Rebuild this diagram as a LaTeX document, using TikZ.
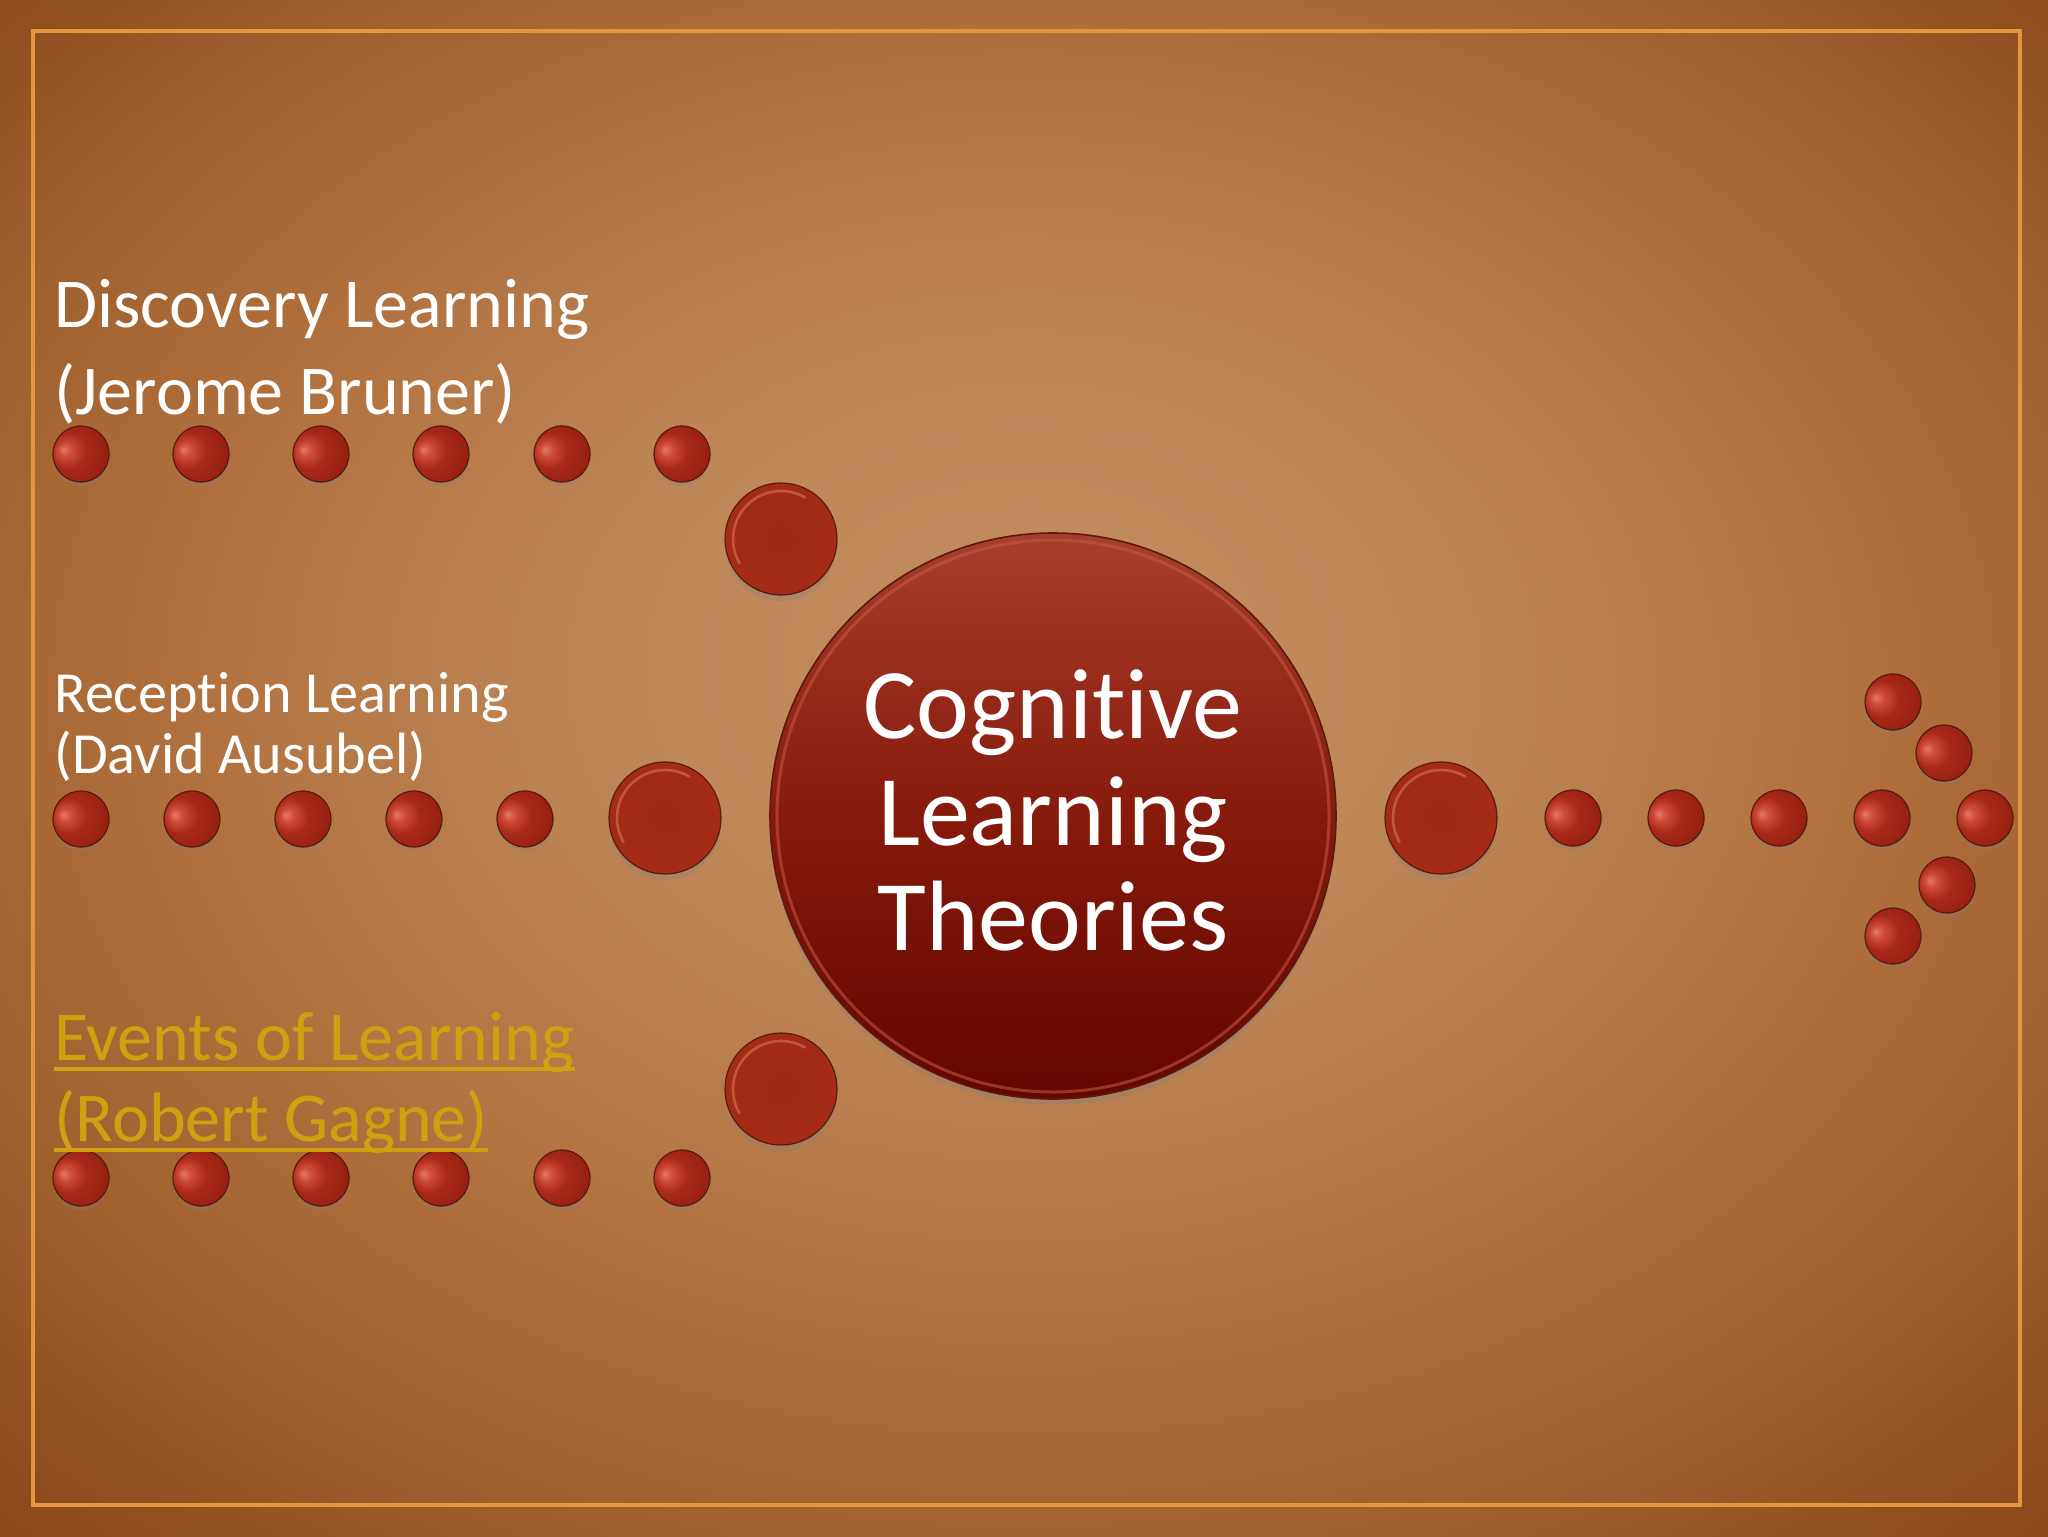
\documentclass[tikz,border=0pt]{standalone}
\usepackage{fontspec}
\setmainfont{Carlito}[Ligatures=NoCommon]
\usetikzlibrary{shadows}
\definecolor{bgA}{HTML}{C28D5F}
\definecolor{bgB}{HTML}{BE8758}
\definecolor{bgC}{HTML}{B27240}
\definecolor{bgD}{HTML}{A0602E}
\definecolor{bgE}{HTML}{8E4A1A}
\definecolor{bgF}{HTML}{833E10}
\definecolor{frame}{HTML}{E3963F}
\definecolor{gold}{HTML}{D0A010}
\definecolor{dotedge}{HTML}{5A1A10}
\definecolor{mdA}{HTML}{9E2713}
\definecolor{mdB}{HTML}{A42C17}
\definecolor{mdC}{HTML}{C4553E}
\definecolor{mdD}{HTML}{8A2414}
\definecolor{mdR}{HTML}{DA7A62}
\definecolor{sdA}{HTML}{E27A66}
\definecolor{sdB}{HTML}{CF4A38}
\definecolor{sdC}{HTML}{A8281A}
\definecolor{sdD}{HTML}{951F10}
\definecolor{sdE}{HTML}{74180C}
\definecolor{cgTop}{HTML}{A83E2E}
\definecolor{cgMid}{HTML}{861A0C}
\definecolor{cgBot}{HTML}{630600}
\definecolor{cgRim}{HTML}{C45A46}
\pgfdeclareradialshading{bgshade}{\pgfpoint{0bp}{4bp}}{color(0bp)=(bgA); color(10bp)=(bgB); color(20bp)=(bgC); color(28bp)=(bgD); color(35bp)=(bgE); color(50bp)=(bgF)}
\pgfdeclareradialshading{mdshade}{\pgfpoint{0bp}{0bp}}{color(0bp)=(mdA); color(25bp)=(mdB); color(31bp)=(mdC); color(34bp)=(mdD); color(35.4bp)=(dotedge); color(50bp)=(dotedge)}
\pgfdeclareradialshading{sdshade}{\pgfpoint{-16bp}{4bp}}{color(0bp)=(sdA); color(6bp)=(sdB); color(16bp)=(sdC); color(32bp)=(sdD); color(50bp)=(sdE)}
\tikzset{
  sdot/.style={circle, inner sep=0pt, minimum size=28pt, shading=sdshade, draw=dotedge, line width=0.6pt,
    drop shadow={opacity=0.3, shadow xshift=0pt, shadow yshift=-2pt}},
  mdot/.style={circle, inner sep=0pt, minimum size=56pt, shading=mdshade, draw=dotedge, line width=0.6pt,
    drop shadow={opacity=0.3, shadow xshift=0pt, shadow yshift=-3pt}},
  rimlight/.style={draw=mdR, line width=1.3pt, opacity=0.55, line cap=round},
  bigdisc/.style={circle, inner sep=0pt, minimum size=283pt, top color=cgTop, bottom color=cgBot, middle color=cgMid,
    draw=dotedge, line width=0.8pt, drop shadow={opacity=0.3, shadow xshift=0pt, shadow yshift=-3pt}},
  ctext/.style={inner sep=0pt, text=white, font=\fontsize{50pt}{60pt}\selectfont, anchor=base},
  disctext/.style={inner sep=0pt, text=white, font=\fontsize{35pt}{42pt}\selectfont, anchor=base west},
  rectext/.style={inner sep=0pt, text=white, font=\fontsize{29.1pt}{34pt}\selectfont, anchor=base west},
  evttext/.style={inner sep=0pt, text=gold, font=\fontsize{35pt}{42pt}\selectfont, anchor=base west},
  uline/.style={draw=gold, line width=2pt}
}
\begin{document}
\begin{tikzpicture}[x=0.5pt, y=-0.5pt]
\useasboundingbox (0,0) rectangle (2048,1536);
\fill[shading=bgshade] (0,0) rectangle (2048,1536);
\draw[frame, line width=2pt] (33,31) rectangle (2020,1505);

% central disc
\node[bigdisc] (cog) at (1053,816) {};
\draw[cgRim, opacity=0.55, line width=1.5pt] (cog.center) circle[radius=276];
\node[ctext] (c1) at (1053,738) {Cognitive};
\node[ctext] (c2) at (1053,845) {Learning};
\node[ctext] (c3) at (1053,950) {Theories};

% medium dots
\node[mdot] (m1) at (781,539) {};
\node[mdot] (m2) at (665,818) {};
\node[mdot] (m3) at (781,1089) {};
\node[mdot] (m4) at (1441,818) {};
\foreach \n in {m1,m2,m3,m4} {
  \draw[rimlight] (\n.center) ++(150:48) arc[start angle=150, end angle=300, radius=48];
}

% top row
\foreach \x [count=\i] in {81,201,321,441,562,682} {
  \node[sdot] (ta\i) at (\x,454) {};
}
% middle row
\foreach \x [count=\i] in {81,192,303,414,525} {
  \node[sdot] (ma\i) at (\x,819) {};
}
% bottom row
\foreach \x [count=\i] in {81,201,321,441,562,682} {
  \node[sdot] (ba\i) at (\x,1178) {};
}
% right arrow
\foreach \x [count=\i] in {1573,1676,1779,1882,1985} {
  \node[sdot] (ra\i) at (\x,818) {};
}
\node[sdot] (rh1) at (1893,702) {};
\node[sdot] (rh2) at (1944,753) {};
\node[sdot] (rh3) at (1947,885) {};
\node[sdot] (rh4) at (1893,936) {};

% texts
\node[disctext] (d1) at (54,327) {Discovery Learning};
\node[disctext] (d2) at (54,414) {(Jerome Bruner)};
\node[rectext] (r1) at (54,712) {Reception Learning};
\node[rectext] (r2) at (54,773) {(David Ausubel)};
\node[evttext] (e1) at (54,1060) {Events of Learning};
\node[evttext] (e2) at (54,1141) {(Robert Gagne)};
\draw[uline] ([yshift=-4.5pt]e1.base west) -- ([yshift=-4.5pt]e1.base east);
\draw[uline] ([yshift=-4.5pt]e2.base west) -- ([yshift=-4.5pt]e2.base east);
\end{tikzpicture}
\end{document}
